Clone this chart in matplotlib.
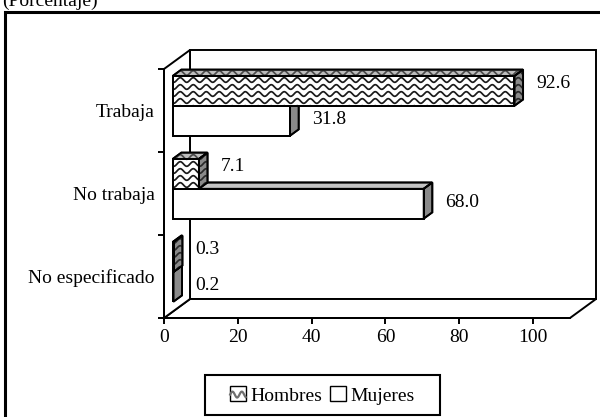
import numpy as np
import matplotlib
matplotlib.use("Agg")
import matplotlib.pyplot as plt
from matplotlib.patches import Polygon, Rectangle, Patch
from matplotlib.lines import Line2D
from matplotlib.legend_handler import HandlerBase

plt.rcParams['font.family'] = ['Liberation Serif', 'DejaVu Serif']
plt.rcParams['font.size'] = 14

# Datos (de abajo hacia arriba)
categorias = ['No especificado', 'No trabaja', 'Trabaja']
hombres = [0.3, 7.1, 92.6]
mujeres = [0.2, 68.0, 31.8]
xticks = [0, 20, 40, 60, 80, 100]
XMAX = 110

fig = plt.figure(figsize=(6, 4.17), dpi=100)
# plano frontal del grafico 3D
ax = fig.add_axes([164 / 600, 1 - 318 / 417, 406 / 600, 249 / 417])
ax.set_xlim(0, XMAX)
ax.set_ylim(0, len(categorias))
ax.patch.set_visible(False)

px_x = 406 / XMAX          # pixeles por unidad en x
px_y = 249 / len(categorias)
DX = 26 / px_x             # profundidad de la caja
DY = 19 / px_y
ox, oy = DX / 3, DY / 3    # las barras ocupan el tercio central


def ondas(patch, color, lw, z):
    # textura ondulada recortada a la cara
    xy = np.asarray(patch.get_xy())
    x0, x1 = xy[:, 0].min(), xy[:, 0].max()
    y0, y1 = xy[:, 1].min(), xy[:, 1].max()
    paso = 7 / px_y
    amp = 2.3 / px_y
    lam = 13 / px_x
    xs = np.linspace(x0 - 1, x1 + 1, max(int((x1 - x0) * px_x), 10) * 2)
    for k in np.arange(np.floor(y0 / paso) - 1, np.ceil(y1 / paso) + 2):
        ln, = ax.plot(xs, k * paso + amp * np.sin(2 * np.pi * xs / lam),
                      color=color, lw=lw, zorder=z)
        ln.set_clip_box(None)
        ln.set_clip_path(patch)


def caja(v, ya, yb, colores, z, onda=False):
    frente = [(ox, ya + oy), (v + ox, ya + oy), (v + ox, yb + oy), (ox, yb + oy)]
    arriba = [(ox, yb + oy), (v + ox, yb + oy), (v + 2 * ox, yb + 2 * oy), (2 * ox, yb + 2 * oy)]
    lado = [(v + ox, ya + oy), (v + 2 * ox, ya + 2 * oy), (v + 2 * ox, yb + 2 * oy), (v + ox, yb + oy)]
    for verts, fc, lc in zip([arriba, lado, frente], colores, ['#4a4a4a', '#2a2a2a', '#1a1a1a']):
        p = Polygon(verts, closed=True, fc=fc, ec='black', lw=1.3, zorder=z,
                    clip_on=False, joinstyle='miter')
        ax.add_patch(p)
        if onda:
            ondas(p, lc, 1.25, z + 0.1)
        # borde otra vez encima de la textura
        ax.add_patch(Polygon(verts, closed=True, fill=False, ec='black', lw=1.3,
                             zorder=z + 0.2, clip_on=False, joinstyle='miter'))


# paredes
n = len(categorias)
paredes = [
    [(DX, DY), (XMAX + DX, DY), (XMAX + DX, n + DY), (DX, n + DY)],
    [(0, 0), (XMAX, 0), (XMAX + DX, DY), (DX, DY)],
    [(0, 0), (DX, DY), (DX, n + DY), (0, n)],
]
for verts in paredes:
    ax.add_patch(Polygon(verts, closed=True, fc='white', ec='black', lw=1.4,
                         zorder=1, clip_on=False))

# barras
for k in range(n):
    caja(mujeres[k], k + 0.12, k + 0.48, ['#c4c4c4', '#8a8a8a', 'white'], 3 + k)
    caja(hombres[k], k + 0.48, k + 0.84, ['#bdbdbd', '#8a8a8a', 'white'], 3.5 + k, onda=True)
    ax.text(hombres[k] + 2 * ox + 3.5, k + 0.66 + oy + 0.084, f'{hombres[k]:.1f}',
            ha='left', va='center', fontsize=14, zorder=10)
    ax.text(mujeres[k] + 2 * ox + 3.5, k + 0.30 + oy + 0.012, f'{mujeres[k]:.1f}',
            ha='left', va='center', fontsize=14, zorder=10)

# ejes
for s in ['top', 'right']:
    ax.spines[s].set_visible(False)
for s in ['left', 'bottom']:
    ax.spines[s].set_linewidth(1.4)
    ax.spines[s].set_zorder(2)
ax.set_xticks(xticks)
ax.set_yticks(range(n + 1))
ax.set_yticklabels([])
ax.set_yticks(np.arange(n) + 0.5, minor=True)
ax.set_yticklabels(categorias, minor=True)
ax.tick_params(axis='x', which='both', direction='out', length=4, width=1.4, pad=4)
ax.tick_params(axis='y', which='major', direction='out', length=4, width=1.4)
ax.tick_params(axis='y', which='minor', length=0, pad=6.5)
ax.tick_params(axis='x', which='minor', length=0)

# marco exterior y titulo (cortado arriba como en el original)
fig.add_artist(Rectangle((5 / 600, -0.1), 1.0, 1.1 - 12 / 417, transform=fig.transFigure,
                         fill=False, ec='black', lw=2.2))
fig.text(2 / 600, 1 - 5.5 / 417, '(Porcentaje)', ha='left', va='baseline', fontsize=14)


# leyenda
class ManejadorOnda(HandlerBase):
    def create_artists(self, legend, orig_handle, xdescent, ydescent, width, height, fontsize, trans):
        r = Rectangle((-xdescent, -ydescent), width, height, fc='white', ec='black', lw=1.0,
                      transform=trans)
        xs = np.linspace(-xdescent, width - xdescent, 40)
        ys = -ydescent + height * 0.45 + height * 0.2 * np.sin(2 * np.pi * xs / (width * 0.6))
        ln = Line2D(xs, ys, color='#707070', lw=1.6, transform=trans)
        return [r, ln]


h_hom = Patch(fc='white', ec='black')
h_muj = Patch(fc='white', ec='black', lw=1.0)
fig.legend([h_hom, h_muj], ['Hombres', 'Mujeres'], loc='center',
           bbox_to_anchor=(322.5 / 600, 1 - 395.5 / 417), ncol=2, frameon=False,
           handlelength=0.8, handleheight=0.8, handletextpad=0.25, columnspacing=0.4,
           borderpad=0, fontsize=14, handler_map={h_hom: ManejadorOnda()})
fig.add_artist(Rectangle((205 / 600, 1 - 415 / 417), 235 / 600, 40 / 417,
                         transform=fig.transFigure, fill=False, ec='black', lw=1.5))

fig.savefig('out.png', dpi=100)
